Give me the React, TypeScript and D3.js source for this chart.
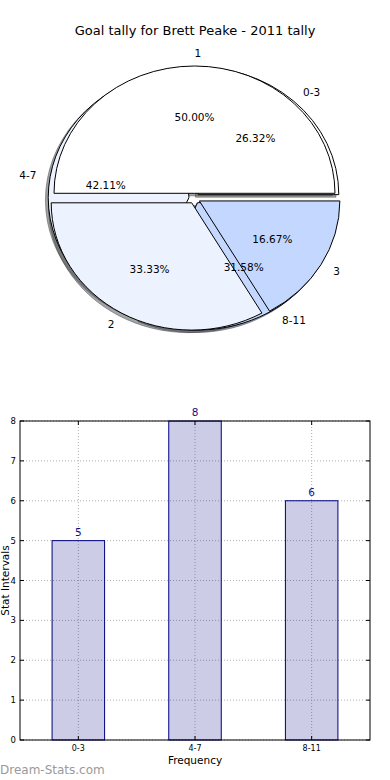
import React from "react";
import * as d3 from "d3";

const W = 390;
const H = 780;

const title = "Goal tally for Brett Peake - 2011 tally";
const intervalLabels = ["0-3", "4-7", "8-11"];
const intervalCounts = [5, 8, 6];
const rankLabels = ["1", "2", "3"];
const rankCounts = [3, 2, 1];
const sliceColors = ["#ffffff", "#ecf2fe", "#c4d8ff"];
const yTicks = [0, 1, 2, 3, 4, 5, 6, 7, 8];

const font = "'DejaVu Sans', sans-serif";

// pie geometry (matplotlib draws it squashed into an ellipse)
const cx = 194.5;
const cy = 198.4;
const rx = 140.5;
const ry = 127.3;
const explode = 0.04;

// bar axes box
const ax = { left: 20, right: 370, top: 421, bottom: 740 };

const pieGen = d3
  .pie<number>()
  .sort(null)
  .startAngle(Math.PI / 2)
  .endAngle(Math.PI / 2 - 2 * Math.PI);

const arcGen = d3.arc<d3.PieArcDatum<number>>().innerRadius(0).outerRadius(1);

function shade(c: string) {
  const rgb = d3.rgb(c);
  return `rgba(${Math.round(rgb.r * 0.3)},${Math.round(rgb.g * 0.3)},${Math.round(rgb.b * 0.3)},0.5)`;
}

function buildPie(values: number[], labels: string[]) {
  const total = d3.sum(values);
  return pieGen(values).map((d, i) => {
    const mid = (d.startAngle + d.endAngle) / 2;
    const ux = Math.sin(mid);
    const uy = -Math.cos(mid);
    return {
      d,
      label: labels[i],
      color: sliceColors[i % sliceColors.length],
      path: arcGen(d) || "",
      ox: cx + explode * rx * ux,
      oy: cy + explode * ry * uy,
      lx: cx + (1.1 + explode) * rx * ux,
      ly: cy + (1.1 + explode) * ry * uy,
      anchor: ux >= -1e-9 ? "start" : "end",
      px: cx + (0.6 + explode) * rx * ux,
      py: cy + (0.6 + explode) * ry * uy,
      pct: d3.format(".2f")((values[i] / total) * 100) + "%",
    };
  });
}

const App: React.FC = () => {
  const pieA = buildPie(intervalCounts, intervalLabels);
  const pieB = buildPie(rankCounts, rankLabels);
  const wedges = [...pieA, ...pieB];

  const x = d3.scaleLinear().domain([-0.5, 2.5]).range([ax.left, ax.right]);
  const y = d3.scaleLinear().domain([0, 8]).range([ax.bottom, ax.top]);
  const barW = x(0.45) - x(0);
  const xIdx = intervalLabels.map((_, i) => i);

  return (
    <svg width={W} height={H} style={{ position: "absolute", left: 0, top: 0, background: "#fff" }}>
      <text x={W / 2} y={35} textAnchor="middle" fontFamily={font} fontSize={13} fill="#000">
        {title}
      </text>

      {/* shadows */}
      {wedges.map((w, i) => (
        <path
          key={"s" + i}
          d={w.path}
          transform={`translate(${w.ox - 0.02 * rx},${w.oy + 0.02 * ry}) scale(${rx},${ry})`}
          fill={shade(w.color)}
          stroke={shade(w.color)}
          strokeWidth={1}
          vectorEffect="non-scaling-stroke"
        />
      ))}
      {/* wedges */}
      {wedges.map((w, i) => (
        <path
          key={"w" + i}
          d={w.path}
          transform={`translate(${w.ox},${w.oy}) scale(${rx},${ry})`}
          fill={w.color}
          stroke="#000"
          strokeWidth={1}
          strokeLinejoin="round"
          vectorEffect="non-scaling-stroke"
        />
      ))}
      {wedges.map((w, i) => (
        <g key={"t" + i} fontFamily={font} fontSize={10.5} fill="#000">
          <text x={w.lx} y={w.ly} textAnchor={w.anchor} dominantBaseline="central">
            {w.label}
          </text>
          <text x={w.px} y={w.py} textAnchor="middle" dominantBaseline="central">
            {w.pct}
          </text>
        </g>
      ))}

      {/* bar chart grid */}
      <g stroke="#b0b0b0" strokeWidth={1} strokeDasharray="1,2">
        {yTicks.map((t) => (
          <line key={"gy" + t} x1={ax.left} x2={ax.right} y1={y(t)} y2={y(t)} />
        ))}
        {xIdx.map((i) => (
          <line key={"gx" + i} x1={x(i)} x2={x(i)} y1={ax.top} y2={ax.bottom} />
        ))}
      </g>

      {intervalCounts.map((v, i) => (
        <rect
          key={"b" + i}
          x={x(i) - barW / 2}
          y={y(v)}
          width={barW}
          height={y(0) - y(v)}
          fill="navy"
          fillOpacity={0.2}
          stroke="navy"
          strokeWidth={1}
        />
      ))}
      {intervalCounts.map((v, i) => (
        <text
          key={"v" + i}
          x={x(i)}
          y={y(v) - 5}
          textAnchor="middle"
          fontFamily={font}
          fontSize={10.5}
          fill="#10108c"
        >
          {v}
        </text>
      ))}

      {/* ticks */}
      <g stroke="#000" strokeWidth={1}>
        {yTicks.map((t) => (
          <g key={"ty" + t}>
            <line x1={ax.left} x2={ax.left + 4} y1={y(t)} y2={y(t)} />
            <line x1={ax.right} x2={ax.right - 4} y1={y(t)} y2={y(t)} />
          </g>
        ))}
        {xIdx.map((i) => (
          <g key={"tx" + i}>
            <line x1={x(i)} x2={x(i)} y1={ax.bottom} y2={ax.bottom - 4} />
            <line x1={x(i)} x2={x(i)} y1={ax.top} y2={ax.top + 4} />
          </g>
        ))}
      </g>
      <rect
        x={ax.left}
        y={ax.top}
        width={ax.right - ax.left}
        height={ax.bottom - ax.top}
        fill="none"
        stroke="#000"
        strokeWidth={1}
      />

      {yTicks.map((t) => (
        <text
          key={"ly" + t}
          x={ax.left - 4}
          y={y(t)}
          textAnchor="end"
          dominantBaseline="central"
          fontFamily={font}
          fontSize={8.5}
          fill="#000"
        >
          {t}
        </text>
      ))}
      {intervalLabels.map((l, i) => (
        <text
          key={"lx" + i}
          x={x(i)}
          y={ax.bottom + 11}
          textAnchor="middle"
          fontFamily={font}
          fontSize={8}
          fill="#000"
        >
          {l}
        </text>
      ))}
      <text x={(ax.left + ax.right) / 2} y={764} textAnchor="middle" fontFamily={font} fontSize={10.5} fill="#000">
        Frequency
      </text>
      <text
        transform={`translate(9,${(ax.top + ax.bottom) / 2}) rotate(-90)`}
        textAnchor="middle"
        fontFamily={font}
        fontSize={10.5}
        fill="#000"
      >
        Stat Intervals
      </text>
      <text x={0} y={774} fontFamily={font} fontSize={12} fill="#9a9a9a">
        Dream-Stats.com
      </text>
    </svg>
  );
};

export default App;
